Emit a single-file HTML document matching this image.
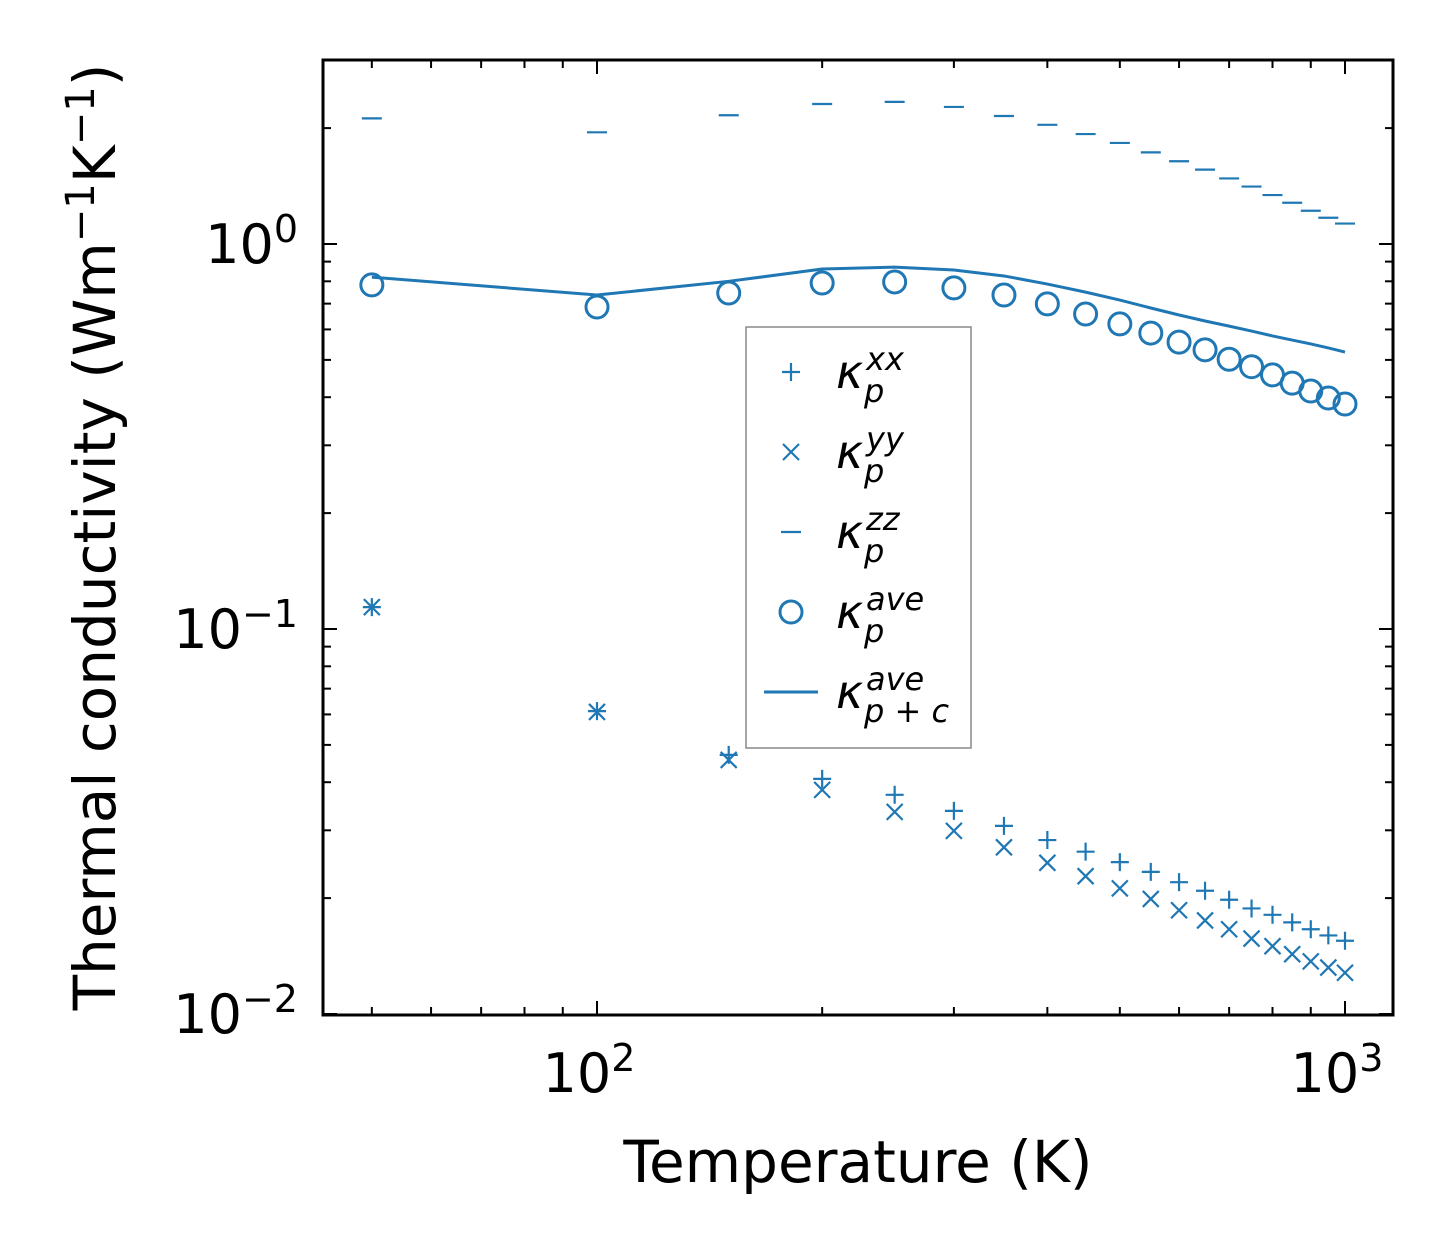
<!DOCTYPE html>
<html><head><meta charset="utf-8"><style>
body{margin:0;background:#fff}
svg{display:block;font-family:"DejaVu Sans","Liberation Sans",sans-serif}
</style></head><body>
<svg id="chart" width="1454" height="1254" viewBox="0 0 1454 1254" xmlns="http://www.w3.org/2000/svg">
<rect width="1454" height="1254" fill="#fff"/>
<g id="grid"></g>
<g id="marks"></g>
<rect x="323" y="60" width="1070" height="955" fill="none" stroke="#000" stroke-width="3"/>
<g id="labels"></g>
<text x="858" y="1182" font-size="58" text-anchor="middle">Temperature (K)</text>
<text transform="translate(115,537) rotate(-90)" font-size="58" text-anchor="middle">Thermal conductivity (Wm<tspan dy="-21" font-size="40">−1</tspan><tspan dy="21">K</tspan><tspan dy="-21" font-size="40">−1</tspan><tspan dy="21">)</tspan></text>
<g id="legend">
<rect x="746" y="327" width="225" height="421" fill="#fff" stroke="#888" stroke-width="1.5"/>
</g>
</svg>
<script>
const temps=[50,100,150,200,250,300,350,400,450,500,550,600,650,700,750,800,850,900,950,1000];
const kxx=[0.114,0.0612,0.0471,0.0408,0.0371,0.0337,0.0308,0.0283,0.0264,0.0248,0.0234,0.0220,0.0209,0.0198,0.0188,0.0181,0.0173,0.0166,0.0160,0.0155];
const kyy=[0.114,0.0609,0.0457,0.0382,0.0335,0.0299,0.0271,0.0247,0.0228,0.0212,0.0199,0.0186,0.0175,0.0166,0.0157,0.0150,0.0143,0.0137,0.0132,0.0128];
const kzz=[2.12,1.95,2.16,2.31,2.34,2.27,2.15,2.04,1.93,1.83,1.73,1.64,1.56,1.48,1.41,1.34,1.28,1.22,1.17,1.13];
const kave=[0.783,0.686,0.746,0.792,0.797,0.769,0.737,0.699,0.658,0.620,0.587,0.556,0.531,0.502,0.480,0.457,0.435,0.415,0.398,0.384];
const kpc=[0.82,0.737,0.80,0.861,0.871,0.856,0.826,0.787,0.75,0.715,0.682,0.654,0.631,0.612,0.594,0.577,0.563,0.550,0.537,0.524];
const xTickVals=[100,1000];const xTickLabels=["10","10"];const xTickExp=["2","3"];
const yTickVals=[0.01,0.1,1];const yTickExp=["−2","−1","0"];
const NS="http://www.w3.org/2000/svg",C="#1f77b4";
const X=v=>597+748*(Math.log10(v)-2);
const Y=v=>244-385*Math.log10(v);
function el(t,a,p){const e=document.createElementNS(NS,t);for(const k in a)e.setAttribute(k,a[k]);document.getElementById(p).appendChild(e);return e;}
for(let d=1;d<=3;d++)for(let m=1;m<10;m++){const v=m*Math.pow(10,d);const x=X(v);if(x<323||x>1393)continue;const L=m==1?14:8;
const t1=el('line',{x1:x,x2:x,y1:1015,y2:1015-L,stroke:'#000','stroke-width':2},'grid');
const t2=el('line',{x1:x,x2:x,y1:60,y2:60+L,stroke:'#000','stroke-width':2},'grid');}
for(let d=-3;d<=0;d++)for(let m=1;m<10;m++){const v=m*Math.pow(10,d);const y=Y(v);if(y<60||y>1015.5)continue;const L=m==1?14:8;
const t1=el('line',{x1:323,x2:323+L,y1:y,y2:y,stroke:'#000','stroke-width':2},'grid');
const t2=el('line',{x1:1393,x2:1393-L,y1:y,y2:y,stroke:'#000','stroke-width':2},'grid');}
xTickVals.forEach((v,i)=>{const t=el('text',{x:X(v)-8,y:1092,'font-size':54,'text-anchor':'middle'},'labels');t.innerHTML=xTickLabels[i]+'<tspan dy="-21" font-size="38">'+xTickExp[i]+'</tspan>';});
yTickVals.forEach((v,i)=>{const t=el('text',{x:298,y:Y(v)+19,'font-size':54,'text-anchor':'end'},'labels');t.innerHTML='10<tspan dy="-21" font-size="38">'+yTickExp[i]+'</tspan>';});
const pl=el('polyline',{points:temps.map((t,i)=>X(t)+','+Y(kpc[i])).join(' '),fill:'none',stroke:C,'stroke-width':3},'marks');

temps.forEach((t,i)=>{const x=X(t);
let y=Y(kxx[i]);let g=el('path',{d:`M${x-9} ${y}h18M${x} ${y-9}v18`,stroke:C,'stroke-width':2.2},'marks');
y=Y(kyy[i]);g=el('path',{d:`M${x-8} ${y-8}l16 16M${x-8} ${y+8}l16 -16`,stroke:C,'stroke-width':2.2},'marks');
y=Y(kzz[i]);g=el('path',{d:`M${x-10} ${y}h20`,stroke:C,'stroke-width':2.2},'marks');
y=Y(kave[i]);g=el('circle',{cx:x,cy:y,r:11,fill:'none',stroke:C,'stroke-width':3},'marks');});
const lg=[["+","xx","p"],["x","yy","p"],["-","zz","p"],["o","ave","p"],["l","ave","p + c"]];
lg.forEach((e,i)=>{const cy=372+80*i,x=791;let g;
if(e[0]=="+")g=el('path',{d:`M${x-9} ${cy}h18M${x} ${cy-9}v18`,stroke:C,'stroke-width':2.2},'legend');
if(e[0]=="x")g=el('path',{d:`M${x-8} ${cy-8}l16 16M${x-8} ${cy+8}l16 -16`,stroke:C,'stroke-width':2.2},'legend');
if(e[0]=="-")g=el('path',{d:`M${x-10} ${cy}h20`,stroke:C,'stroke-width':2.2},'legend');
if(e[0]=="o")g=el('circle',{cx:x,cy:cy,r:11,fill:'none',stroke:C,'stroke-width':3},'legend');
if(e[0]=="l")g=el('path',{d:`M${x-27} ${cy}h54`,stroke:C,'stroke-width':3},'legend');

const t=el('text',{x:836,y:cy+16,'font-size':46,'font-style':'italic'},'legend');
t.innerHTML='κ<tspan dy="14" font-size="32">'+e[2]+'</tspan><tspan x="866" dy="-32" font-size="32">'+e[1]+'</tspan>';
t.querySelector('tspan').setAttribute('x','836');t.querySelector('tspan').setAttribute('dx','28');});
</script>
</body></html>
